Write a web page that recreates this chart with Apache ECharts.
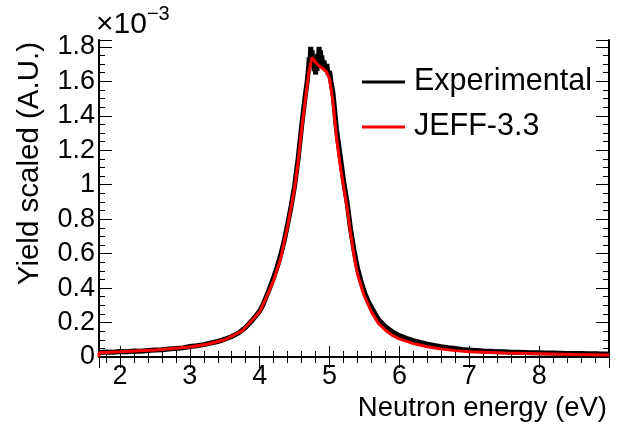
<!DOCTYPE html>
<html>
<head>
<meta charset="utf-8">
<script src="https://cdn.jsdelivr.net/npm/echarts@6/dist/echarts.min.js"></script>
<style>
html,body{margin:0;padding:0;background:#fff;}
#chart{width:618px;height:425px;}
</style>
</head>
<body>
<div id="chart"></div>
<script>
// Values in units of 1e-3 (A.U.)
const expEnergy = [1.7,1.8,1.9,2.0,2.1,2.2,2.3,2.4,2.5,2.6,2.7,2.8,2.9,3.0,3.1,3.2,3.3,3.4,3.5,3.6,3.7,3.8,3.9,
  4.0,4.05,4.1,4.15,4.2,4.25,4.3,4.35,4.4,4.45,4.5,4.55,4.6,4.65,4.68,
  4.70,4.71,4.72,4.73,4.74,4.75,4.76,4.77,4.78,4.79,4.80,4.81,4.82,4.83,4.84,4.85,4.86,4.87,4.88,4.89,4.90,4.92,4.94,4.96,4.98,5.0,5.02,
  5.05,5.1,5.15,5.2,5.25,5.3,5.35,5.4,5.45,5.5,5.55,5.6,
  5.7,5.8,5.9,6.0,6.1,6.2,6.3,6.4,6.5,6.6,6.7,6.8,6.9,7.0,7.1,7.2,7.3,7.4,7.5,7.6,7.7,7.8,7.9,8.0,8.1,8.2,8.3,8.4,8.5,8.6,8.7,8.8,8.9,9.0];
const expYield = [0.026,0.029,0.027,0.032,0.030,0.035,0.033,0.038,0.040,0.042,0.046,0.050,0.053,0.061,0.065,0.072,0.081,0.090,0.103,0.119,0.140,0.172,0.216,
  0.266,0.306,0.356,0.407,0.462,0.522,0.592,0.672,0.772,0.875,0.995,1.150,1.340,1.510,1.600,
  1.680,1.740,1.700,1.800,1.720,1.780,1.700,1.740,1.660,1.720,1.640,1.700,1.660,1.760,1.700,1.800,1.720,1.780,1.700,1.750,1.680,1.720,1.660,1.700,1.640,1.660,1.600,
  1.530,1.320,1.175,1.025,0.900,0.745,0.620,0.515,0.440,0.375,0.325,0.288,
  0.218,0.176,0.146,0.124,0.108,0.095,0.084,0.075,0.067,0.060,0.054,0.049,0.044,0.041,0.038,0.035,0.033,0.031,0.030,0.028,0.027,0.026,0.025,0.024,0.023,0.023,0.022,0.021,0.021,0.020,0.019,0.019,0.018,0.018];

const jeffEnergy = [1.7,1.7,2.0,2.5,3.0,3.25,3.5,3.75,3.9,4.0,4.1,4.2,4.3,4.4,4.5,4.55,4.6,4.65,4.7,4.75,4.8,4.85,4.9,4.95,5.0,5.05,5.1,5.15,5.2,5.25,5.3,5.35,5.4,5.5,5.6,5.7,5.8,5.9,6.0,6.2,6.4,6.6,6.8,7.0,7.5,8.0,8.5,9.0];
const jeffYield = [0,0.025,0.030,0.040,0.058,0.074,0.100,0.152,0.218,0.262,0.350,0.445,0.570,0.760,0.980,1.130,1.320,1.480,1.645,1.740,1.710,1.690,1.675,1.660,1.615,1.480,1.270,1.120,0.990,0.870,0.720,0.590,0.480,0.350,0.262,0.195,0.155,0.125,0.105,0.078,0.060,0.047,0.037,0.030,0.023,0.019,0.015,0.012];

const seriesNames = ['Experimental', 'JEFF-3.3'];
const xTitle = 'Neutron energy (eV)';
const yTitle = 'Yield scaled (A.U.)';

const FONT = 'Liberation Sans, Arial, Helvetica, sans-serif';
const xMin = 1.7, xMax = 9.0, yMin = 0, yMax = 1.84;

const pairs = (xs, ys) => xs.map((x, i) => [x, ys[i]]);

const chart = echarts.init(document.getElementById('chart'), null, {renderer: 'canvas'});

const axisLine = {show: true, lineStyle: {color: '#000', width: 2}};
function xAxisCfg(pos, showLabels) {
  return {
    type: 'value', position: pos, min: xMin, max: xMax, splitNumber: 5,
    axisLine: axisLine,
    axisTick: {show: true, inside: true, length: 11, lineStyle: {color: '#000', width: 1}},
    minorTick: {show: true, splitNumber: 5, length: 6, lineStyle: {color: '#000', width: 1}},
    splitLine: {show: false}, minorSplitLine: {show: false},
    axisLabel: {show: showLabels, color: '#000', fontFamily: FONT, fontSize: 27, margin: 6,
      showMinLabel: false, showMaxLabel: false},
  };
}
function yAxisCfg(pos, showLabels) {
  return {
    type: 'value', position: pos, min: yMin, max: yMax, interval: 0.2,
    axisLine: axisLine,
    axisTick: {show: true, inside: true, length: 13, lineStyle: {color: '#000', width: 1}},
    minorTick: {show: true, splitNumber: 4, length: 6, lineStyle: {color: '#000', width: 1}},
    splitLine: {show: false}, minorSplitLine: {show: false},
    axisLabel: {show: showLabels, color: '#000', fontFamily: FONT, fontSize: 27, margin: 4,
      showMaxLabel: false},
  };
}

const option = {
  backgroundColor: '#fff',
  animation: false,
  grid: {left: 99, right: 9, top: 40, bottom: 68, containLabel: false},
  xAxis: [xAxisCfg('bottom', true), xAxisCfg('top', false)],
  yAxis: [yAxisCfg('left', true), yAxisCfg('right', false)],
  legend: {
    left: 357, top: 61, orient: 'vertical', itemGap: 13,
    itemWidth: 43, itemHeight: 3, icon: 'rect',
    textStyle: {fontFamily: FONT, fontSize: 30.5, color: '#000', padding: [0, 0, 0, 4], lineHeight: 32},
    data: [
      {name: seriesNames[0], itemStyle: {color: '#000'}},
      {name: seriesNames[1], itemStyle: {color: '#ff0000'}}
    ]
  },
  series: [
    {
      name: seriesNames[0], type: 'line', xAxisIndex: 0, yAxisIndex: 0,
      data: pairs(expEnergy, expYield), showSymbol: false, symbol: 'none',
      lineStyle: {color: '#000', width: 5}, itemStyle: {color: '#000'}, z: 2
    },
    {
      name: seriesNames[1], type: 'line', xAxisIndex: 0, yAxisIndex: 0,
      data: pairs(jeffEnergy, jeffYield), showSymbol: false, symbol: 'none',
      lineStyle: {color: '#ff0000', width: 3}, itemStyle: {color: '#ff0000'}, z: 3
    }
  ],
  graphic: [
    {type: 'text', left: 96, top: 4, style: {
      text: '{a|×10}{b|−3}', fill: '#000',
      rich: {
        a: {fontFamily: FONT, fontSize: 30, verticalAlign: 'bottom', fill: '#000'},
        b: {fontFamily: FONT, fontSize: 20, verticalAlign: 'top', fill: '#000', padding: [0,0,16,0]}
      }
    }},
    {type: 'text', x: 607, y: 408, style: {text: xTitle, fontFamily: FONT, fontSize: 27.5, fill: '#000',
      textAlign: 'right', textVerticalAlign: 'middle'}},
    {type: 'text', x: 30, y: 42, rotation: Math.PI / 2, style: {text: yTitle, fontFamily: FONT, fontSize: 29.5, fill: '#000',
      textAlign: 'right', textVerticalAlign: 'middle'}}
  ]
};
chart.setOption(option);
</script>
</body>
</html>
